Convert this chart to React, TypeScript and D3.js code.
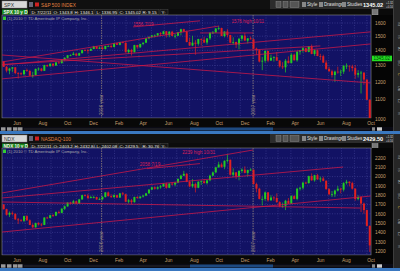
import React from 'react';
import * as d3 from 'd3';

// ---------- DATA ----------
const weeks = d3.timeFriday.range(new Date(2006, 4, 12), new Date(2008, 9, 11));

const spxFirstOpen = 1325;
const spxClose = [
  1291,1267,1280,1288,1252,1251,1245,1270,1265,1236,1240,1278,1280,1266,1302,1295,1311,1299,1319,1314,1336,1349,1366,1368,1377,1364,1380,1401,1400,1396,1409,1427,1410,1418,
  1409,1430,1430,1423,1449,1438,1456,1451,1387,1402,1386,1436,1421,1444,1453,1484,1495,1505,1505,1522,1515,1536,1507,1533,1502,1503,1530,1552,1534,1458,1433,1453,1445,1479,1474,1454,1484,1525,1527,1557,1561,1501,1535,1509,1453,1458,1440,1481,1504,1468,1484,1478,
  1411,1401,1325,1330,1396,1331,1349,1353,1331,1294,1288,1330,1316,1370,1333,1390,1398,1414,1389,1426,1375,1400,1361,1360,1318,1278,1263,1240,1261,1257,1261,1297,1298,1293,1283,1242,1252,1255,1213,1099,899
];
const spxHigh = [
  1326,1297,1285,1290,1289,1258,1257,1272,1280,1272,1260,1280,1287,1283,1304,1305,1312,1314,1322,1328,1340,1353,1368,1372,1389,1381,1384,1403,1407,1408,1415,1431,1428,1427,
  1429,1431,1435,1441,1452,1453,1460,1461,1457,1410,1410,1438,1438,1445,1454,1485,1499,1510,1513,1523,1530,1540,1539,1538,1540,1517,1532,1556,1556,1542,1488,1503,1471,1481,1485,1496,1485,1530,1538,1561,1576,1564,1536,1553,1510,1492,1460,1488,1510,1523,1486,1498,
  1475,1418,1407,1355,1396,1397,1370,1360,1388,1335,1321,1341,1359,1380,1377,1395,1400,1422,1416,1429,1440,1406,1404,1376,1370,1333,1292,1273,1267,1292,1274,1303,1313,1300,1304,1303,1270,1266,1256,1214,1100
];
const spxLow = [
  1290,1256,1245,1259,1245,1219,1238,1237,1260,1236,1224,1238,1267,1262,1265,1290,1292,1291,1297,1311,1313,1327,1344,1360,1366,1360,1363,1378,1394,1377,1396,1407,1409,1410,
  1403,1405,1425,1416,1420,1437,1434,1449,1384,1374,1364,1385,1410,1416,1435,1450,1478,1490,1491,1500,1500,1513,1490,1492,1500,1484,1503,1506,1530,1455,1431,1429,1370,1432,1432,1450,1439,1473,1516,1526,1545,1500,1491,1492,1448,1439,1416,1406,1464,1467,1447,1475,
  1410,1370,1319,1270,1317,1320,1330,1325,1330,1286,1277,1256,1312,1312,1331,1324,1370,1384,1386,1386,1373,1362,1360,1334,1316,1272,1261,1225,1200,1248,1234,1247,1277,1261,1263,1217,1225,1133,1183,1097,839
];

const ndxFirstOpen = 1700;
const ndxClose = [
  1650,1590,1610,1600,1540,1530,1525,1575,1530,1480,1455,1500,1485,1480,1560,1555,1585,1580,1620,1610,1655,1680,1720,1710,1735,1710,1755,1800,1795,1770,1780,1780,1755,1757,
  1780,1830,1790,1780,1800,1775,1820,1810,1730,1745,1725,1780,1770,1785,1795,1820,1860,1885,1870,1885,1895,1925,1880,1925,1915,1935,1975,2010,2030,1945,1895,1920,1880,1945,1950,1930,1960,2010,2045,2100,2130,2105,2170,2180,2020,2045,2000,2060,2075,2040,2070,2075,
  1920,1870,1760,1760,1830,1745,1775,1770,1725,1680,1685,1740,1710,1790,1760,1870,1880,1935,1930,2005,1960,2015,1970,1980,1955,1865,1810,1810,1850,1870,1860,1930,1945,1930,1870,1760,1780,1710,1640,1470,1260
];
const ndxHigh = [
  1705,1655,1625,1625,1605,1555,1545,1580,1585,1540,1495,1505,1510,1500,1562,1570,1590,1595,1625,1635,1660,1690,1725,1730,1750,1740,1760,1805,1810,1815,1795,1795,1785,1775,
  1790,1835,1840,1810,1810,1805,1825,1835,1815,1760,1760,1785,1790,1790,1805,1825,1865,1890,1895,1895,1910,1930,1935,1930,1940,1945,1980,2020,2062,2040,1960,1975,1935,1950,1960,1975,1965,2020,2055,2105,2160,2150,2175,2239,2185,2090,2050,2070,2090,2110,2075,2090,
  2070,1935,1880,1790,1840,1835,1800,1790,1820,1735,1720,1750,1770,1800,1800,1880,1890,1945,1945,2010,2035,2020,2030,2000,2000,1960,1875,1845,1860,1900,1880,1940,1965,1950,1945,1875,1800,1790,1720,1645,1475
];
const ndxLow = [
  1645,1580,1565,1585,1535,1490,1515,1510,1525,1478,1446,1450,1475,1465,1478,1545,1550,1565,1575,1600,1605,1640,1675,1700,1705,1700,1705,1750,1785,1755,1765,1765,1750,1750,
  1745,1775,1785,1770,1770,1770,1770,1800,1725,1710,1700,1720,1760,1760,1775,1790,1815,1855,1860,1860,1870,1890,1870,1875,1905,1895,1930,1970,2005,1940,1885,1880,1830,1875,1910,1925,1915,1950,2005,2040,2095,2095,2080,2150,2010,1995,1975,1960,2040,2035,2000,2060,
  1915,1830,1755,1690,1740,1730,1740,1740,1720,1670,1665,1640,1705,1705,1755,1745,1850,1860,1920,1925,1955,1945,1965,1940,1950,1860,1800,1780,1780,1840,1820,1840,1915,1895,1860,1740,1745,1620,1600,1465,1190
];

const spxTicks = [1000, 1100, 1200, 1300, 1400, 1500, 1600];
const ndxTicks = [1200, 1300, 1400, 1500, 1600, 1700, 1800, 1900, 2000, 2100, 2200];

const yearMarks = [
  { date: '2007-01-01', label: '2006 year' },
  { date: '2008-01-01', label: '2007 year' },
];

// trend lines: [startDate, startPrice, endDate, endPrice]
const spxLines: [string, number, string, number][] = [
  ['2006-05-06', 1217, '2008-10-10', 1444],
  ['2006-05-06', 1322, '2007-10-11', 1577],
  ['2006-05-06', 1303, '2008-10-10', 1532],
  ['2006-05-06', 1306, '2008-06-11', 1430],
  ['2006-05-06', 1368, '2008-10-10', 1193],
  ['2007-03-18', 1570, '2007-08-26', 1617],
  ['2007-08-26', 1524, '2008-01-01', 1524],
];
const spxNotes = [
  { date: '2007-03-18', price: 1575, text: '1556  7/19' },
  { date: '2007-11-10', price: 1598, text: '1576  high 10/11' },
];

const ndxLines: [string, number, string, number][] = [
  ['2006-05-06', 1824, '2008-01-01', 2286],
  ['2006-05-06', 1770, '2008-08-05', 2103],
  ['2006-05-06', 1404, '2008-10-10', 1791],
  ['2006-05-06', 1727, '2008-09-15', 1662],
  ['2007-04-20', 2085, '2007-08-26', 2140],
];
const ndxNotes = [
  { date: '2007-04-03', price: 2119, text: '2058  7/19' },
  { date: '2007-07-14', price: 2238, text: '2239 high 10/31' },
];

const spxFields = ['D: 7/22/11', 'O: 1343.8', 'H: 1346.1', 'L: 1336.95', 'C: 1345.02', 'R: 9.15', 'Y:'];
const ndxFields = ['D: 7/22/11', 'O: 2403.2', 'H: 2432.84', 'L: 2402.08', 'C: 2429.5', 'R: 30.76', 'Y:'];

// ---------- LAYOUT ----------
const X0 = 2, X1 = 371;
const x = d3.scaleTime().domain([new Date(2006, 4, 6), new Date(2008, 9, 11)]).range([X0, X1]);
const pd = d3.timeParse('%Y-%m-%d');
const FONT = 'Liberation Sans, Arial, sans-serif';
const NAVY = '#121264';
const GRID = '#46469a';
const LINE = '#c81848';
const TAN = '#c8a070';

type PanelProps = {
  top: number; plotTop: number; plotBottom: number;
  sym: string; name: string; fields: string[]; last: string;
  firstOpen: number; closes: number[]; highs: number[]; lows: number[];
  y: any; ticks: number[];
  lines: [string, number, string, number][];
  notes: { date: string; price: number; text: string }[];
  priceBox?: number;
  id: string;
};

function Panel(p: PanelProps) {
  const { top, plotTop, plotBottom, y } = p;
  const n = Math.min(weeks.length, p.closes.length);
  const opens = p.closes.map((c, i) => (i === 0 ? p.firstOpen : p.closes[i - 1]));
  const months = d3.timeMonth.range(new Date(2006, 5, 1), new Date(2008, 9, 11));
  const labelMonths = months.filter((m) => m.getMonth() % 2 === 1);
  const hdrY = top + 9;
  return (
    <g>
      {/* toolbar */}
      <rect x={0} y={top} width={400} height={9} fill="#101010" />
      <rect x={270} y={top} width={123} height={9} fill="#2c2c2c" />
      <rect x={2} y={top + 1} width={25} height={7} fill="#d8d8d8" stroke="#888" strokeWidth={0.5} />
      <text x={4} y={top + 6.6} fontSize={5} fill="#333" fontFamily={FONT}>{p.sym}</text>
      <rect x={29} y={top + 2} width={4} height={5} fill="#667" />
      <rect x={35} y={top + 2.5} width={4} height={4} fill="#d02020" />
      <text x={41} y={top + 6.5} fontSize={4.8} fill="#e08040" fontFamily={FONT}>{p.name}</text>
      {[276, 283, 290].map((bx, i) => (
        <rect key={i} x={bx} y={top + 1.5} width={i === 2 ? 9 : 5} height={6} fill="#555" stroke="#999" strokeWidth={0.4} />
      ))}
      {['Style', 'Drawings', 'Studies'].map((t, i) => (
        <g key={t}>
          <rect x={[302, 319, 342][i]} y={top + 2} width={4} height={5} fill="#888" />
          <text x={[307, 324, 347][i]} y={top + 6.3} fontSize={4.6} fill="#e0e0e0" fontFamily={FONT}>{t}</text>
        </g>
      ))}
      <text x={363} y={top + 6.8} fontSize={5.6} fontWeight="bold" fill="#ffffff" fontFamily={FONT}>{p.last}</text>
      <text x={386} y={top + 4} fontSize={2.8} fill="#ddd" fontFamily={FONT}>+1.32</text>
      <text x={386} y={top + 7.5} fontSize={2.8} fill="#ddd" fontFamily={FONT}>+0.10%</text>

      {/* header row */}
      <rect x={0} y={hdrY} width={372} height={plotTop - hdrY} fill="#0c0c0c" />
      <rect x={2} y={hdrY + 0.5} width={26} height={plotTop - hdrY - 1} fill="#1a8a1a" />
      <text x={3.5} y={hdrY + 4.6} fontSize={4.6} fill="#f0f0f0" fontWeight="bold" fontFamily={FONT}>{p.sym} 10 y D</text>
      {p.fields.map((f, i) => {
        const xs = [30, 52, 73, 95, 118, 141, 160];
        const ws = [21, 20, 21, 22, 22, 18, 8];
        return (
          <g key={f}>
            <rect x={xs[i]} y={hdrY + 0.5} width={ws[i]} height={plotTop - hdrY - 1} fill="#161616" stroke="#555" strokeWidth={0.4} />
            <text x={xs[i] + 1.5} y={hdrY + 4.6} fontSize={4.4} fill="#e8e8e8" fontFamily={FONT}>{f}</text>
          </g>
        );
      })}
      <rect x={372} y={hdrY + 0.5} width={6} height={5.5} fill="#777" stroke="#bbb" strokeWidth={0.4} />

      {/* plot area */}
      <rect x={X0} y={plotTop} width={X1 - X0} height={plotBottom - plotTop} fill={NAVY} stroke="#8a8a8a" strokeWidth={0.6} />
      <clipPath id={p.id}>
        <rect x={X0} y={plotTop} width={X1 - X0} height={plotBottom - plotTop} />
      </clipPath>
      <text x={7} y={plotTop + 4.6} fontSize={4.2} fill="#aaaaaa" fontFamily={FONT}>(1) 2010 © TD Ameritrade IP Company, Inc.</text>
      <rect x={3} y={plotTop + 1.5} width={3} height={3.5} fill="#3c3" />
      <g clipPath={`url(#${p.id})`}>
        {p.ticks.map((t) => (
          <line key={t} x1={X0} x2={X1} y1={y(t)} y2={y(t)} stroke={GRID} strokeWidth={0.6} strokeDasharray="1,1.5" />
        ))}
        {months.map((m, i) => (
          <line key={i} x1={x(m)} x2={x(m)} y1={plotTop} y2={plotBottom} stroke={GRID} strokeWidth={0.6} strokeDasharray="1,1.5" />
        ))}
        {yearMarks.map((ym) => {
          const xx = x(pd(ym.date)!);
          return (
            <g key={ym.date}>
              <line x1={xx} x2={xx} y1={plotTop} y2={plotBottom} stroke="#8a7a70" strokeWidth={0.8} strokeDasharray="1.5,1" />
              <text transform={`translate(${xx + 1.6},${plotBottom - 3}) rotate(-90)`} fontSize={4.6} fill="#9a8a80" fontFamily={FONT}>{ym.label}</text>
            </g>
          );
        })}
        {d3.range(n).map((i) => {
          const cx = x(d3.timeDay.offset(weeks[i], -2));
          const o = opens[i], c = p.closes[i];
          const up = c >= o;
          const col = up ? '#22cc22' : '#e02020';
          const yt = y(Math.max(o, c)), yb = y(Math.min(o, c));
          return (
            <g key={i}>
              <line x1={cx} x2={cx} y1={y(p.highs[i])} y2={y(p.lows[i])} stroke={col} strokeWidth={0.7} />
              <rect x={cx - 1} y={yt} width={2} height={Math.max(0.8, yb - yt)} fill={col} />
            </g>
          );
        })}
        {p.lines.map((l, i) => (
          <line key={i} x1={x(pd(l[0])!)} y1={y(l[1])} x2={x(pd(l[2])!)} y2={y(l[3])} stroke={LINE} strokeWidth={0.8} />
        ))}
        {p.notes.map((nt) => (
          <text key={nt.text} x={x(pd(nt.date)!)} y={y(nt.price)} fontSize={4.6} fill="#d82058" fontFamily={FONT}>{nt.text}</text>
        ))}
      </g>

      {/* y axis */}
      <rect x={372} y={plotTop} width={21} height={plotBottom - plotTop + 13} fill="#050505" />
      {p.ticks.map((t) => (
        <text key={t} x={375} y={y(t) + 1.8} fontSize={4.8} fill={TAN} fontFamily={FONT}>{t}</text>
      ))}
      {p.priceBox !== undefined && (
        <g>
          <rect x={372} y={y(p.priceBox) - 2.8} width={20} height={5.6} fill="#22e022" />
          <text x={373.5} y={y(p.priceBox) + 1.7} fontSize={4.6} fill="#064006" fontFamily={FONT}>{p.priceBox.toFixed(2)}</text>
        </g>
      )}

      {/* x axis */}
      <rect x={0} y={plotBottom + 0.5} width={372} height={8} fill="#080808" />
      {labelMonths.map((m, i) => (
        <text key={i} x={x(m) + 0.5} y={plotBottom + 6.5} fontSize={4.8} fill={TAN} fontFamily={FONT}>{d3.timeFormat('%b')(m)}</text>
      ))}

      {/* scrollbar */}
      <rect x={0} y={plotBottom + 9} width={393} height={4} fill="#0a0a14" />
      {[1, 7, 13, 18].map((bx) => (
        <rect key={bx} x={bx} y={plotBottom + 9.3} width={4.5} height={3.4} fill="#9a9a9a" />
      ))}
      <line x1={24} x2={370} y1={plotBottom + 11} y2={plotBottom + 11} stroke="#333" strokeWidth={0.8} />
      <rect x={190} y={plotBottom + 9.5} width={83} height={3} fill="#1e4a80" />
      <rect x={372} y={plotBottom + 9.3} width={3} height={3.4} fill="#888" />
      <rect x={377} y={plotBottom + 9.3} width={5} height={3.4} fill="#ccc" />

      {/* right tab strip */}
      <rect x={393} y={top} width={7} height={plotBottom - top + 13} fill="#262626" />
      <line x1={393.5} x2={393.5} y1={top} y2={plotBottom + 13} stroke="#555" strokeWidth={0.5} />
      {['Trd', 'TS', 'AT', 'Stu', 'C', 'OB', 'L2', 'N'].map((t, i) => (
        <text key={t} transform={`translate(398,${plotTop + 6 + i * 13}) rotate(90)`} fontSize={3.6} fill={t === 'C' ? '#e0c040' : '#aaa'} fontFamily={FONT}>{t}</text>
      ))}
    </g>
  );
}

export default function App() {
  const ySpx = d3.scaleLog().domain([1000, 1600]).range([119, 23]);
  const yNdx = d3.scaleLinear().domain([1200, 2200]).range([251, 158]);
  return (
    <svg width={400} height={271} style={{ position: 'absolute', left: 0, top: 0, background: '#0a0a0a' }}>
      <Panel id="c1" top={0} plotTop={15} plotBottom={118} sym="SPX" name="S&P 500 INDEX" fields={spxFields} last="1345.02"
        firstOpen={spxFirstOpen} closes={spxClose} highs={spxHigh} lows={spxLow} y={ySpx} ticks={spxTicks}
        lines={spxLines} notes={spxNotes} priceBox={1345.02} />
      <rect x={0} y={131} width={400} height={3} fill="#3a78c0" />
      <Panel id="c2" top={134} plotTop={148} plotBottom={255} sym="NDX" name="NASDAQ-100" fields={ndxFields} last="2429.50"
        firstOpen={ndxFirstOpen} closes={ndxClose} highs={ndxHigh} lows={ndxLow} y={yNdx} ticks={ndxTicks}
        lines={ndxLines} notes={ndxNotes} />
      <rect x={0} y={268} width={400} height={3} fill="#3a78c0" />
    </svg>
  );
}
